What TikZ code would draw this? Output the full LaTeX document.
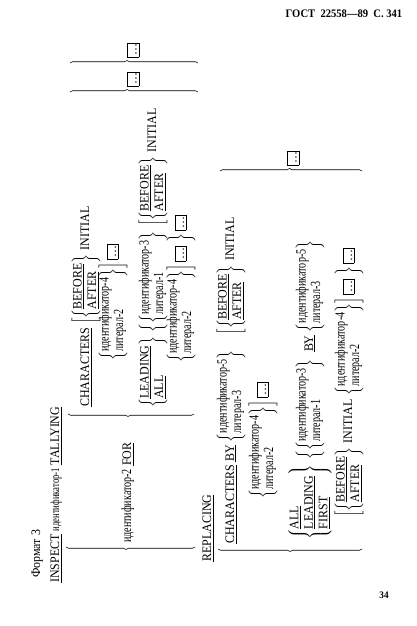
\documentclass[tikz,border=0pt]{standalone}
\usepackage{fontspec}
\usepackage{amsmath}
\setmainfont{Liberation Serif}[FakeStretch=0.92]
\newfontfamily\idfont{Liberation Serif}[FakeStretch=0.72]
\usetikzlibrary{decorations.pathreplacing}

\newcommand\kw[1]{\underline{#1}}
\newcommand\stk[1]{\begin{array}{@{}l@{}}#1\end{array}}
\newcommand\tx[1]{\text{#1}}
\newcommand\id[1]{\text{\fontsize{14}{14.5}\selectfont\idfont #1}}
\newcommand\dotbox{\fbox{\rule[-1pt]{0pt}{9pt}\ldots}}
\newcommand\synfont{\fontsize{13}{14.5}\selectfont}
\setlength\fboxsep{1pt}
\setlength\fboxrule{0.5pt}

\begin{document}
\begin{tikzpicture}[
        x=1pt, y=1pt,
        row/.style={anchor=base west, inner sep=0pt, font=\synfont},
        rep/.style={inner sep=0pt, font=\synfont},
        grp/.style={decorate, decoration={brace, amplitude=2.5pt, aspect=#1}, line width=0.6pt}
    ]
    \useasboundingbox (0,0) rectangle (416,626);
    \fill[white] (0,0) rectangle (416,626);

    % Page head and foot
    \node[font=\fontsize{11.5}{13}\selectfont\bfseries] (head) at (344,612) {ГОСТ~~22558—89~~С.~341};
    \node[font=\fontsize{10}{12}\selectfont\bfseries] (pageno) at (384,31) {34};

    \begin{scope}[rotate=90, transform shape]
        % Title lines
        \node[row] (format) at (48,-40) {Формат 3};
        \node[row] (inspect) at (43,-59) {\kw{INSPECT} {\fontsize{12}{12}\selectfont\idfont идентификатор-1} \kw{TALLYING}};

        % TALLYING group
        \draw[grp=0.535] (79,-195) -- (79,-66);
        \node[row] (ident) at (83,-131) {{\fontsize{14}{14}\selectfont\idfont идентификатор-2} \kw{FOR}};
        \draw[grp=0.524] (212,-194) -- (212,-68);

        \node[row] (tchars) at (219,-89) {\kw{CHARACTERS} $\left[\left\{\stk{\tx{\kw{BEFORE}}\\ \tx{\kw{AFTER}}}\right\}\right.$ INITIAL};
        \node[row] (tcharsid) at (264,-116) {$\left.\left\{\stk{\id{идентификатор-4}\\ \id{литерал-2}}\right\}\right]$ \dotbox};
        \node[row] (tlead) at (218,-156) {$\left\{\stk{\tx{\kw{LEADING}}\\ \tx{\kw{ALL}}}\right\}\,\left\{\left\{\stk{\id{идентификатор-3}\\ \id{литерал-1}}\right\}\right.\,\left[\left\{\stk{\tx{\kw{BEFORE}}\\ \tx{\kw{AFTER}}}\right\}\right.$ INITIAL};
        \node[row] (tleadid) at (262,-184) {$\left.\left\{\stk{\id{идентификатор-4}\\ \id{литерал-2}}\right\}\right]$ \dotbox\ $\left.\vphantom{\stk{X\\ X}}\right\}$ \dotbox};

        \draw[grp=0.445] (534,-70) -- (534,-198);
        \node[rep] (trep1) at (547,-133) {\dotbox};
        \draw[grp=0.445] (563,-70) -- (563,-198);
        \node[rep] (trep2) at (576,-133) {\dotbox};

        % REPLACING group
        \node[row] (replacing) at (64,-211) {\kw{REPLACING}};
        \draw[grp=0.5] (77,-362) -- (77,-218);

        \node[row] (rchars) at (82,-234) {\kw{CHARACTERS} \kw{BY} $\left\{\stk{\id{идентификатор-5}\\ \id{литерал-3}}\right\}\quad\left[\left\{\stk{\tx{\kw{BEFORE}}\\ \tx{\kw{AFTER}}}\right\}\right.$ INITIAL};
        \node[row] (rcharsid) at (126,-266) {$\left.\left\{\stk{\id{идентификатор-4}\\ \id{литерал-2}}\right\}\right]$ \dotbox};
        \node[row] (rall) at (86,-313) {$\left\{\stk{\tx{\kw{ALL}}\\ \tx{\kw{LEADING}}\\ \tx{\kw{FIRST}}}\right\}\;\left\{\left\{\stk{\id{идентификатор-3}\\ \id{литерал-1}}\right\}\right.$ \ \kw{BY} $\left\{\stk{\id{идентификатор-5}\\ \id{литерал-3}}\right\}$};
        \node[row] (rallid) at (108,-352) {$\left[\left\{\stk{\tx{\kw{BEFORE}}\\ \tx{\kw{AFTER}}}\right\}\right.$ INITIAL $\left.\left\{\stk{\id{идентификатор-4}\\ \id{литерал-2}}\right\}\right]$ \dotbox\ $\left.\vphantom{\stk{X\\ X}}\right\}$ \dotbox};

        \draw[grp=0.49] (455,-220) -- (455,-362);
        \node[rep] (rrep) at (468,-293) {\dotbox};
    \end{scope}
\end{tikzpicture}
\end{document}
